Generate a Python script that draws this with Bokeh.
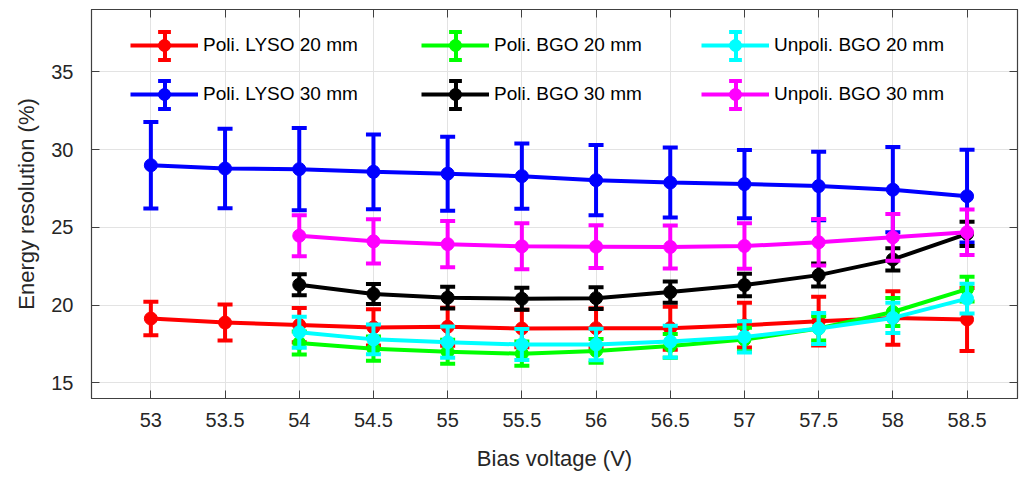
from bokeh.plotting import figure
from bokeh.models import (ColumnDataSource, Range1d, FixedTicker, LinearAxis, Legend,
                          LegendItem, CustomJSTickFormatter)
from bokeh.embed import file_html
from bokeh.resources import INLINE
import numpy as np

# ---------------- data ----------------
bias_all = [53.0, 53.5, 54.0, 54.5, 55.0, 55.5, 56.0, 56.5, 57.0, 57.5, 58.0, 58.5]
bias_bgo = [54.0, 54.5, 55.0, 55.5, 56.0, 56.5, 57.0, 57.5, 58.0, 58.5]

lyso20 = [19.14, 18.88, 18.72, 18.57, 18.61, 18.50, 18.52, 18.52, 18.71, 18.97, 19.17, 19.08]
lyso20_err = [1.08, 1.16, 1.10, 1.16, 1.22, 1.20, 1.28, 1.38, 1.44, 1.57, 1.72, 2.02]

bgo20 = [17.56, 17.20, 17.00, 16.88, 17.06, 17.38, 17.79, 18.50, 19.56, 21.03]
bgo20_err = [0.74, 0.78, 0.77, 0.78, 0.76, 0.76, 0.75, 0.78, 0.90, 0.80]

unp20 = [18.26, 17.80, 17.62, 17.47, 17.47, 17.66, 17.96, 18.50, 19.18, 20.42]
unp20_err = [1.00, 0.96, 1.00, 1.00, 1.01, 1.02, 1.00, 1.00, 0.97, 0.95]

lyso30 = [28.99, 28.78, 28.74, 28.57, 28.45, 28.29, 28.03, 27.88, 27.78, 27.65, 27.42, 27.00]
lyso30_err = [2.78, 2.56, 2.64, 2.40, 2.38, 2.10, 2.26, 2.25, 2.19, 2.20, 2.74, 2.98]

bgo30 = [21.31, 20.72, 20.48, 20.41, 20.45, 20.84, 21.29, 21.93, 22.94, 24.58]
bgo30_err = [0.68, 0.64, 0.70, 0.70, 0.70, 0.68, 0.72, 0.74, 0.72, 0.78]

unp30 = [24.46, 24.10, 23.92, 23.78, 23.76, 23.74, 23.80, 24.04, 24.36, 24.68]
unp30_err = [1.32, 1.42, 1.48, 1.48, 1.37, 1.38, 1.46, 1.50, 1.50, 1.46]

x_ticks = [53.0, 53.5, 54.0, 54.5, 55.0, 55.5, 56.0, 56.5, 57.0, 57.5, 58.0, 58.5]
x_tick_labels = ["53", "53.5", "54", "54.5", "55", "55.5", "56", "56.5", "57", "57.5", "58", "58.5"]
y_ticks = [15, 20, 25, 30, 35]

series = [
    ("Poli. LYSO 20 mm", bias_all, lyso20, lyso20_err, "#ff0000"),
    ("Poli. BGO 20 mm", bias_bgo, bgo20, bgo20_err, "#00ff00"),
    ("Unpoli. BGO 20 mm", bias_bgo, unp20, unp20_err, "#00ffff"),
    ("Poli. LYSO 30 mm", bias_all, lyso30, lyso30_err, "#0000ff"),
    ("Poli. BGO 30 mm", bias_bgo, bgo30, bgo30_err, "#000000"),
    ("Unpoli. BGO 30 mm", bias_bgo, unp30, unp30_err, "#ff00ff"),
]

# ---------------- figure ----------------
FONT = "Liberation Sans"
TXT = "#262626"
AX = "#404040"

W, H = 1019, 477
ML, MR, MT, MB = 91, 2, 9, 79

p = figure(width=W, height=H, output_backend="svg", toolbar_location=None,
           x_range=Range1d(52.6, 58.84), y_range=Range1d(14, 39),
           min_border_left=ML, min_border_right=MR, min_border_top=MT, min_border_bottom=MB)
p.background_fill_color = "white"
p.border_fill_color = "white"
p.outline_line_color = AX
p.outline_line_width = 1.2

xt = FixedTicker(ticks=x_ticks)
yt = FixedTicker(ticks=y_ticks)

for ax, t in ((p.xaxis[0], xt), (p.yaxis[0], yt)):
    ax.ticker = t
    ax.major_tick_in = 8
    ax.major_tick_out = 0
    ax.minor_tick_line_color = None
    ax.major_tick_line_color = AX
    ax.axis_line_color = AX
    ax.major_label_text_font = FONT
    ax.major_label_text_font_size = "20px"
    ax.major_label_text_color = TXT
    ax.axis_label_text_font = FONT
    ax.axis_label_text_font_size = "22px"
    ax.axis_label_text_font_style = "normal"
    ax.axis_label_text_color = TXT

p.xaxis[0].major_label_overrides = {float(t): l for t, l in zip(x_ticks, x_tick_labels)}
p.xaxis[0].axis_label = "Bias voltage (V)"
p.xaxis[0].major_label_standoff = 14
p.xaxis[0].axis_label_standoff = 16
p.yaxis[0].axis_label = "Energy resolution (%)"
p.yaxis[0].major_label_standoff = 18
p.yaxis[0].axis_label_standoff = 9

blank = CustomJSTickFormatter(code="return ''")
for place, t in (("above", xt), ("right", yt)):
    a = LinearAxis(ticker=t, formatter=blank, major_tick_in=8, major_tick_out=0,
                   minor_tick_line_color=None, major_tick_line_color=AX,
                   axis_line_color=AX, major_label_standoff=0,
                   major_label_text_font_size="1px")
    p.add_layout(a, place)

p.xgrid.ticker = xt
p.ygrid.ticker = yt
p.xgrid.grid_line_color = "#e3e3e3"
p.ygrid.grid_line_color = "#e3e3e3"

renderers = []
for name, xs, ys, es, col in series:
    xs_a = np.array(xs); ys_a = np.array(ys); es_a = np.array(es)
    src = ColumnDataSource(dict(x=xs_a, y=ys_a, h=2 * es_a))
    cap_top = ColumnDataSource(dict(x=xs_a, y=ys_a + es_a))
    cap_bot = ColumnDataSource(dict(x=xs_a, y=ys_a - es_a))
    bar = p.rect("x", "y", width=4, height="h", width_units="screen", source=src,
                 fill_color=col, line_color=None)
    ct = p.rect("x", "y", width=15, height=4, width_units="screen", height_units="screen",
                source=cap_top, fill_color=col, line_color=None)
    cb = p.rect("x", "y", width=15, height=4, width_units="screen", height_units="screen",
                source=cap_bot, fill_color=col, line_color=None)
    ln = p.line("x", "y", source=src, line_color=col, line_width=4)
    mk = p.scatter("x", "y", source=src, size=13, marker="circle",
                   fill_color=col, line_color=col)
    renderers.append((name, ln, mk, bar, ct, cb))

# ---------------- legends ----------------
FB = H - MB  # frame bottom in screen px
col_x = [130, 421, 701]
row_y = [45, 94]

def add_leg(items, x_left, y_center, gw, gh, font_size, text_color="black"):
    lg = Legend(items=items, location=(x_left - ML, FB - (y_center + gh / 2)),
                glyph_width=gw, glyph_height=gh, label_height=gh, label_width=0,
                padding=0, margin=0, spacing=0, label_standoff=5,
                background_fill_alpha=0, border_line_alpha=0,
                label_text_font=FONT, label_text_font_size=font_size,
                label_text_color=text_color)
    p.add_layout(lg)

for i, (name, ln, mk, bar, ct, cb) in enumerate(renderers):
    cx = col_x[i % 3]
    cy = row_y[i // 3]
    gx = cx + 34
    add_leg([LegendItem(label=" ", renderers=[bar])], gx - 2.5, cy, 5, 35, "1px")
    add_leg([LegendItem(label=" ", renderers=[ct])], gx - 8, cy - 14, 16, 5, "1px")
    add_leg([LegendItem(label=" ", renderers=[cb])], gx - 8, cy + 14, 16, 5, "1px")
    add_leg([LegendItem(label=name, renderers=[ln, mk])], cx, cy, 68, 30, "19px")

open("out.html", "w").write(file_html(p, INLINE))
